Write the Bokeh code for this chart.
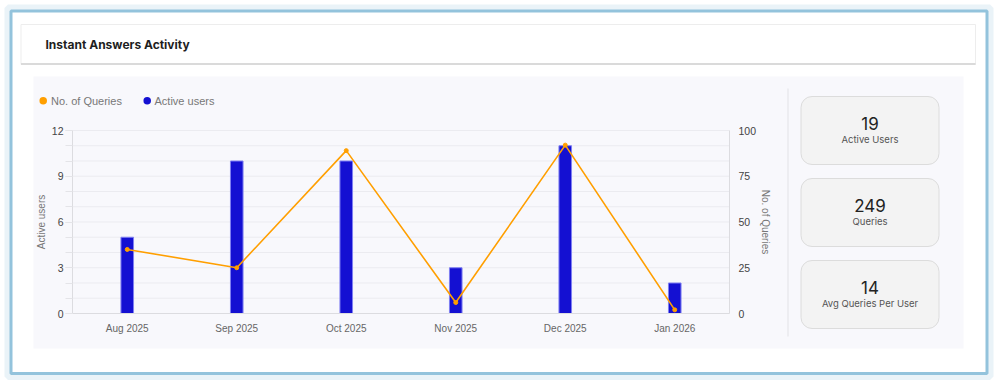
from bokeh.plotting import figure
from bokeh.models import Range1d, LinearAxis, FixedTicker
from bokeh.core.properties import value
from bokeh.embed import file_html
from bokeh.resources import INLINE

# ---------------- data ----------------
months = ["Aug 2025", "Sep 2025", "Oct 2025", "Nov 2025", "Dec 2025", "Jan 2026"]
active_users = [5, 10, 10, 3, 11, 2]
queries = [35, 25, 89, 6, 92, 2]
left_ticks = [0, 3, 6, 9, 12]
right_ticks = [0, 25, 50, 75, 100]
stat_values = ["19", "249", "14"]
stat_labels = ["Active Users", "Queries", "Avg Queries Per User"]
title_text = "Instant Answers Activity"
legend_labels = ["No. of Queries", "Active users"]

ORANGE = "#ff9f00"
BLUE = "#1410d2"

# ---------------- layout (pixels) ----------------
W, H = 997, 383
PL, PR, PT, PB = 72, 729, 130, 313          # plot area inside the canvas
n = len(months)
idx = list(range(n))
step = (PR - PL) / n
m_start = -0.5 - PL / step
m_end = m_start + W / step
u_max = left_ticks[-1]
q_max = right_ticks[-1]
u_px = u_max / (PB - PT)
q_px = q_max / (PB - PT)

p = figure(width=W, height=H, x_range=Range1d(0, W), y_range=Range1d(H, 0),
           x_axis_location=None, y_axis_location=None, output_backend="svg",
           toolbar_location=None, min_border=0)
p.min_border_left = p.min_border_right = p.min_border_top = p.min_border_bottom = 0
p.outline_line_color = None
p.background_fill_color = "white"
p.border_fill_color = "white"
p.grid.visible = False
p.extra_x_ranges = {"m": Range1d(m_start, m_end)}
p.extra_y_ranges = {"u": Range1d(-(H - PB) * u_px, u_max + PT * u_px),
                    "q": Range1d(-(H - PB) * q_px, q_max + PT * q_px)}


def rect(x0, y0, x1, y1, **kw):
    return p.quad(left=[x0], right=[x1], top=[y0], bottom=[y1], **kw)


def text(xs, ys, texts, align="left", font="Liberation Sans", size="10px",
         color="#444444", style="normal"):
    p.text(x=xs, y=ys, text=texts, text_align=align, text_baseline="middle",
           text_font=value(font), text_font_size=size, text_color=color,
           text_font_style=style)


# outer blue frame with glow
rect(7.5, 7.5, 989.5, 376, fill_color=None, line_color="#9ecae1", line_width=7, line_alpha=0.22)
rect(10.5, 10.5, 986.5, 373, fill_color=None, line_color="#93c3dc", line_width=3)

# header card
rect(20.5, 24, 975, 64, fill_color="white", line_color="#ededed", line_width=1)
rect(20.5, 62.5, 975, 64.5, fill_color="#dadada", line_color=None)
text([45], [44], [title_text], font="Inter", size="12px", color="#1e1e1e", style="bold")

# chart panel background
rect(33, 76, 963, 348, fill_color="#f8f8fc", line_color=None)

# grid lines (one per minor tick of the left axis)
grid_vals = list(range(0, u_max + 1))
p.segment(x0=-0.5, x1=n - 0.5, y0=grid_vals, y1=grid_vals, x_range_name="m",
          y_range_name="u", line_color="#ebebf0", line_width=1)

# bars and line
p.vbar(x=idx, top=active_users, width=0.115, x_range_name="m", y_range_name="u",
       fill_color=BLUE, line_color="#7f7ff2", line_width=1)
p.line(x=idx, y=queries, x_range_name="m", y_range_name="q", line_color=ORANGE,
       line_width=1.6)
p.scatter(x=idx, y=queries, x_range_name="m", y_range_name="q", size=4,
          fill_color=ORANGE, line_color=ORANGE)

# axes
AX = "#dcdce0"
ax_b = LinearAxis(x_range_name="m", y_range_name="u", fixed_location=0,
                  ticker=FixedTicker(ticks=idx),
                  major_label_overrides={i: m for i, m in enumerate(months)},
                  bounds=(-0.5, n - 0.5))
ax_b.axis_line_color = AX
ax_b.major_tick_out = 0
ax_b.major_tick_in = 0
ax_b.minor_tick_line_color = None
ax_b.major_label_standoff = 9
ax_b.major_label_text_font = "Liberation Sans"
ax_b.major_label_text_font_size = "10px"
ax_b.major_label_text_color = "#666666"
p.add_layout(ax_b, "below")

ax_l = LinearAxis(x_range_name="m", y_range_name="u", fixed_location=-0.5,
                  ticker=FixedTicker(ticks=left_ticks, minor_ticks=grid_vals),
                  bounds=(0, u_max), axis_label="Active users")
ax_l.axis_line_color = AX
ax_l.major_tick_line_color = "#e4e4e8"
ax_l.minor_tick_line_color = "#e4e4e8"
ax_l.major_tick_out = 7
ax_l.major_tick_in = 0
ax_l.minor_tick_out = 7
ax_l.minor_tick_in = 0
ax_l.major_label_standoff = 2
ax_l.major_label_text_font = "Liberation Sans"
ax_l.major_label_text_font_size = "10.5px"
ax_l.major_label_text_color = "#444444"
ax_l.axis_label_text_font = "Liberation Sans"
ax_l.axis_label_text_font_size = "10px"
ax_l.axis_label_text_font_style = "normal"
ax_l.axis_label_text_color = "#777777"
ax_l.axis_label_standoff = 2
p.add_layout(ax_l, "left")

ax_r = LinearAxis(x_range_name="m", y_range_name="q", fixed_location=n - 0.5,
                  ticker=FixedTicker(ticks=right_ticks), bounds=(0, q_max),
                  axis_label="No. of Queries")
ax_r.axis_line_color = AX
ax_r.major_tick_out = 0
ax_r.major_tick_in = 0
ax_r.minor_tick_line_color = None
ax_r.major_label_standoff = 9
ax_r.major_label_text_font = "Liberation Sans"
ax_r.major_label_text_font_size = "10.5px"
ax_r.major_label_text_color = "#444444"
ax_r.axis_label_text_font = "Liberation Sans"
ax_r.axis_label_text_font_size = "10px"
ax_r.axis_label_text_font_style = "normal"
ax_r.axis_label_text_color = "#777777"
ax_r.axis_label_standoff = 1
p.add_layout(ax_r, "right")

# legend
p.scatter(x=[42.7, 146.7], y=[100.3, 100.3], size=7.5, marker="circle",
          fill_color=[ORANGE, BLUE], line_color=None)
text([50.5, 154], [100.5, 100.5], legend_labels, size="11px", color="#777777")

# separator
p.segment(x0=[787.5], x1=[787.5], y0=[88], y1=[336], line_color="#e2e2e6", line_width=1)

# stat cards
card_tops = [96, 178, 260]
p.quad(left=800.5, right=938.5, top=card_tops, bottom=[t + 68 for t in card_tops],
       fill_color="#f3f3f3", line_color="#dcdcdc", line_width=1, border_radius=11)
text([869.5] * 3, [t + 27 for t in card_tops], stat_values, align="center",
     font="Inter", size="17px", color="#222222")
text([869.5] * 3, [t + 43 for t in card_tops], stat_labels, align="center",
     font="Inter", size="9.5px", color="#555555")

open("out.html", "w").write(file_html(p, INLINE))
